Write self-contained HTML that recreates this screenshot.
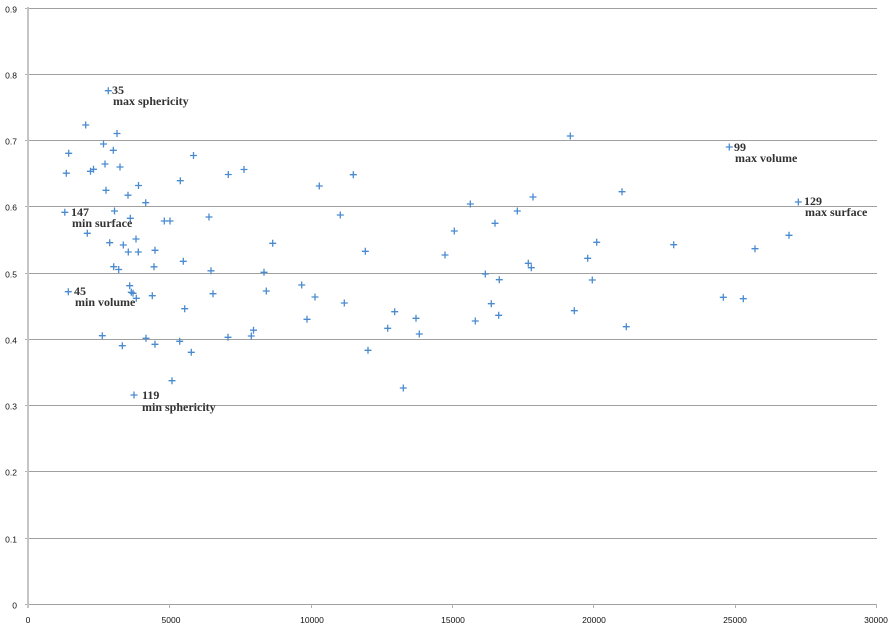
<!DOCTYPE html>
<html><head><meta charset="utf-8"><style>
html,body{margin:0;padding:0;background:#fff;}
svg{display:block;}
.t{font-family:"Liberation Sans",sans-serif;font-size:8.5px;fill:#111;}
.l{font-family:"Liberation Serif",serif;font-size:12px;font-weight:bold;fill:#333;}
</style></head><body>
<svg width="895" height="632" viewBox="0 0 895 632" xmlns="http://www.w3.org/2000/svg">
<defs>
<marker id="pl" markerUnits="userSpaceOnUse" markerWidth="10" markerHeight="10" refX="5" refY="5" orient="0" overflow="visible">
<path d="M1.5 5H8.5M5 1.5V8.5" stroke="#4a8bd0" stroke-width="1.3" fill="none"/>
</marker>
</defs>
<g stroke="#a0a0a0" stroke-width="1">
<line x1="28" y1="8.5" x2="877" y2="8.5"/>
<line x1="28" y1="74.5" x2="877" y2="74.5"/>
<line x1="28" y1="140.5" x2="877" y2="140.5"/>
<line x1="28" y1="206.5" x2="877" y2="206.5"/>
<line x1="28" y1="273.5" x2="877" y2="273.5"/>
<line x1="28" y1="339.5" x2="877" y2="339.5"/>
<line x1="28" y1="405.5" x2="877" y2="405.5"/>
<line x1="28" y1="471.5" x2="877" y2="471.5"/>
<line x1="28" y1="538.5" x2="877" y2="538.5"/>
<line x1="28" y1="604.5" x2="877" y2="604.5"/>
</g>
<path stroke="#b0b0b0" stroke-width="1" fill="none" d="M25 8.5H28M25 74.5H28M25 140.5H28M25 206.5H28M25 273.5H28M25 339.5H28M25 405.5H28M25 471.5H28M25 538.5H28M25 604.5H28M169.5 604V608M311.5 604V608M452.5 604V608M593.5 604V608M735.5 604V608M876.5 604V608"/>
<line x1="28" y1="7" x2="28" y2="608" stroke="#c4c4c4" stroke-width="2"/>
<g class="t" text-anchor="end">
<text x="17" y="12.5">0.9</text>
<text x="17" y="78.5">0.8</text>
<text x="17" y="144.5">0.7</text>
<text x="17" y="210.5">0.6</text>
<text x="17" y="277.5">0.5</text>
<text x="17" y="343.5">0.4</text>
<text x="17" y="409.5">0.3</text>
<text x="17" y="475.5">0.2</text>
<text x="17" y="542.5">0.1</text>
<text x="17" y="608.5">0</text>
</g>
<g class="t" text-anchor="middle">
<text x="28" y="623">0</text>
<text x="171" y="623">5000</text>
<text x="312" y="623">10000</text>
<text x="453" y="623">15000</text>
<text x="594" y="623">20000</text>
<text x="735" y="623">25000</text>
<text x="876" y="623">30000</text>
</g>
<polyline fill="none" stroke="none" marker-start="url(#pl)" marker-mid="url(#pl)" marker-end="url(#pl)" points="108.3,90.7 85.7,125 117,133.5 103.5,144 68.7,153.3 113.3,150.3 193.5,155.5 66.3,173.2 90.5,171.3 93.5,169.3 105,164 120,167 180.3,180.7 228.3,174.5 244,169.5 106,190.3 128,195.2 138.5,185.5 145.7,202.7 64.8,212.3 114.5,211 130.3,218.3 164.3,221 170,221 209,217 87.3,233.3 109.7,242.7 136,239 123.3,245 128.3,252 138.3,252 155,250.3 183.3,261.3 113.7,266.7 118.7,269.5 154,266.8 211,270.8 68.3,291.7 129.7,285.7 131.3,292.3 133,293.3 136.3,298.3 152.3,295.7 213,293.7 184.7,308.7 102.3,335.7 122.3,345.7 146,338.3 155,344.3 179.7,341.3 191.3,352.3 228,337.3 251.3,336 253.5,330.2 172,380.7 134,395 319.3,186 353.3,174.7 340.3,215 272.7,243.3 365.3,251.3 454.3,231 445,255 264,272.3 266.3,291 301.7,285 315,297 344.3,303 394.7,311.7 416,318.3 307,319.3 387.7,328.3 419.3,334 368,350.3 403.3,388 570.3,136 533,197 622,191.7 470.3,204 517.3,211 495,223.3 596.7,242.3 587.7,258.3 528.3,263.3 531.3,267.7 485.3,274 499.3,279.7 592.3,280 491.3,303.7 498.7,315.3 475.3,321 574.3,310.7 626.3,326.7 729.3,147 798.3,202 673.7,244.7 755,248.7 789,235.3 723.3,297.3 743.3,298.7"/>
<g class="l">
<text x="112" y="94">35</text><text x="113" y="105">max sphericity</text>
<text x="71" y="216">147</text><text x="72" y="227">min surface</text>
<text x="74" y="295">45</text><text x="75" y="306">min volume</text>
<text x="142" y="399">119</text><text x="142" y="411">min sphericity</text>
<text x="734" y="151">99</text><text x="735" y="162">max volume</text>
<text x="804" y="205">129</text><text x="805" y="216">max surface</text>
</g>
</svg>
</body></html>
